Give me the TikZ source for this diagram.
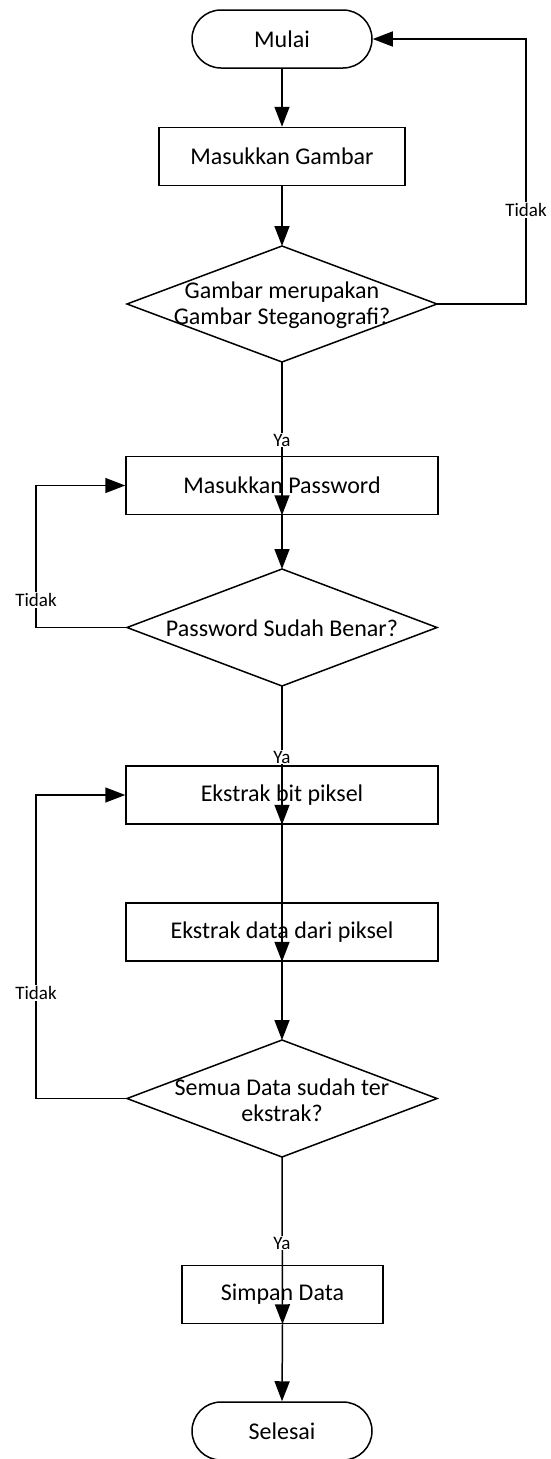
\documentclass[tikz,border=0pt]{standalone}
\usepackage{fontspec}
\setmainfont{Carlito}
\usetikzlibrary{shapes.geometric,arrows.meta}
\begin{document}
\begin{tikzpicture}[x=1pt,y=-1pt,
  every node/.style={font=\fontsize{24}{26}\selectfont},
  term/.style={draw,line width=1.5pt,rectangle,rounded corners=29pt,minimum width=180pt,minimum height=58pt,inner sep=0pt},
  proc/.style={draw,line width=1.5pt,rectangle,minimum height=58pt,inner sep=0pt},
  dectext/.style={inner sep=0pt,align=center},
  decline/.style={draw,line width=1.5pt},
  arr/.style={line width=1.5pt,-{Triangle[length=20pt,width=15pt]}},
  lbl/.style={fill=white,inner sep=1pt,font=\fontsize{19}{21}\selectfont}]
\useasboundingbox (0,0) rectangle (550,1459);
\node[term] (start) at (282,39) {Mulai};
\node[proc,minimum width=246pt] (g) at (282,156.5) {Masukkan Gambar};
% decision 1
\coordinate (d1n) at (282,246);
\coordinate (d1s) at (282,362);
\coordinate (d1e) at (437,304);
\coordinate (d1w) at (127,304);
\draw[decline] (d1n) -- (d1e) -- (d1s) -- (d1w) -- cycle;
\node[dectext] (d1) at (282,305) {Gambar merupakan\\Gambar Steganografi?};
\node[proc,minimum width=312pt] (p) at (282,485.5) {Masukkan Password};
% decision 2
\coordinate (d2n) at (282,569);
\coordinate (d2s) at (282,686);
\coordinate (d2e) at (437,627.5);
\coordinate (d2w) at (127,627.5);
\draw[decline] (d2n) -- (d2e) -- (d2s) -- (d2w) -- cycle;
\node[dectext] (d2) at (282,628) {Password Sudah Benar?};
\node[proc,minimum width=312pt] (e1) at (282,795) {Ekstrak bit piksel};
\node[proc,minimum width=312pt] (e2) at (282,932) {Ekstrak data dari piksel};
% decision 3
\coordinate (d3n) at (282,1040);
\coordinate (d3s) at (282,1157);
\coordinate (d3e) at (437,1098.5);
\coordinate (d3w) at (127,1098.5);
\draw[decline] (d3n) -- (d3e) -- (d3s) -- (d3w) -- cycle;
\node[dectext] (d3) at (282,1100) {Semua Data sudah ter\\ekstrak?};
\node[proc,minimum width=201pt] (s) at (282.5,1294.5) {Simpan Data};
\node[term] (end) at (282,1431) {Selesai};
\coordinate (r1) at (526,39);
\coordinate (l1) at (36,627.5);
\coordinate (l2) at (36,1098.5);
\draw[arr] (start) -- (g);
\draw[arr] (g) -- (d1n);
\draw[arr] (d1e) -| (r1) -- (start.east);
\draw[arr] (d1s) -- (p.south);
\draw[arr] (p.south) -- (d2n);
\draw[arr] (d2w) -- (l1) |- (p.west);
\draw[arr] (d2s) -- (e1.south);
\draw[arr] (e1.south) -- (e2.south);
\draw[arr] (e2.south) -- (d3n);
\draw[arr] (d3w) -- (l2) |- (e1.west);
\draw[arr] (d3s) -- (s.south);
\draw[arr] (s.south) -- (end.north);
\node[lbl] (t1) at (526,210) {Tidak};
\node[lbl] (y1) at (282,440) {Ya};
\node[lbl] (t2) at (36,600) {Tidak};
\node[lbl] (y2) at (282,757) {Ya};
\node[lbl] (t3) at (36,993) {Tidak};
\node[lbl] (y3) at (282,1243) {Ya};
\end{tikzpicture}
\end{document}
